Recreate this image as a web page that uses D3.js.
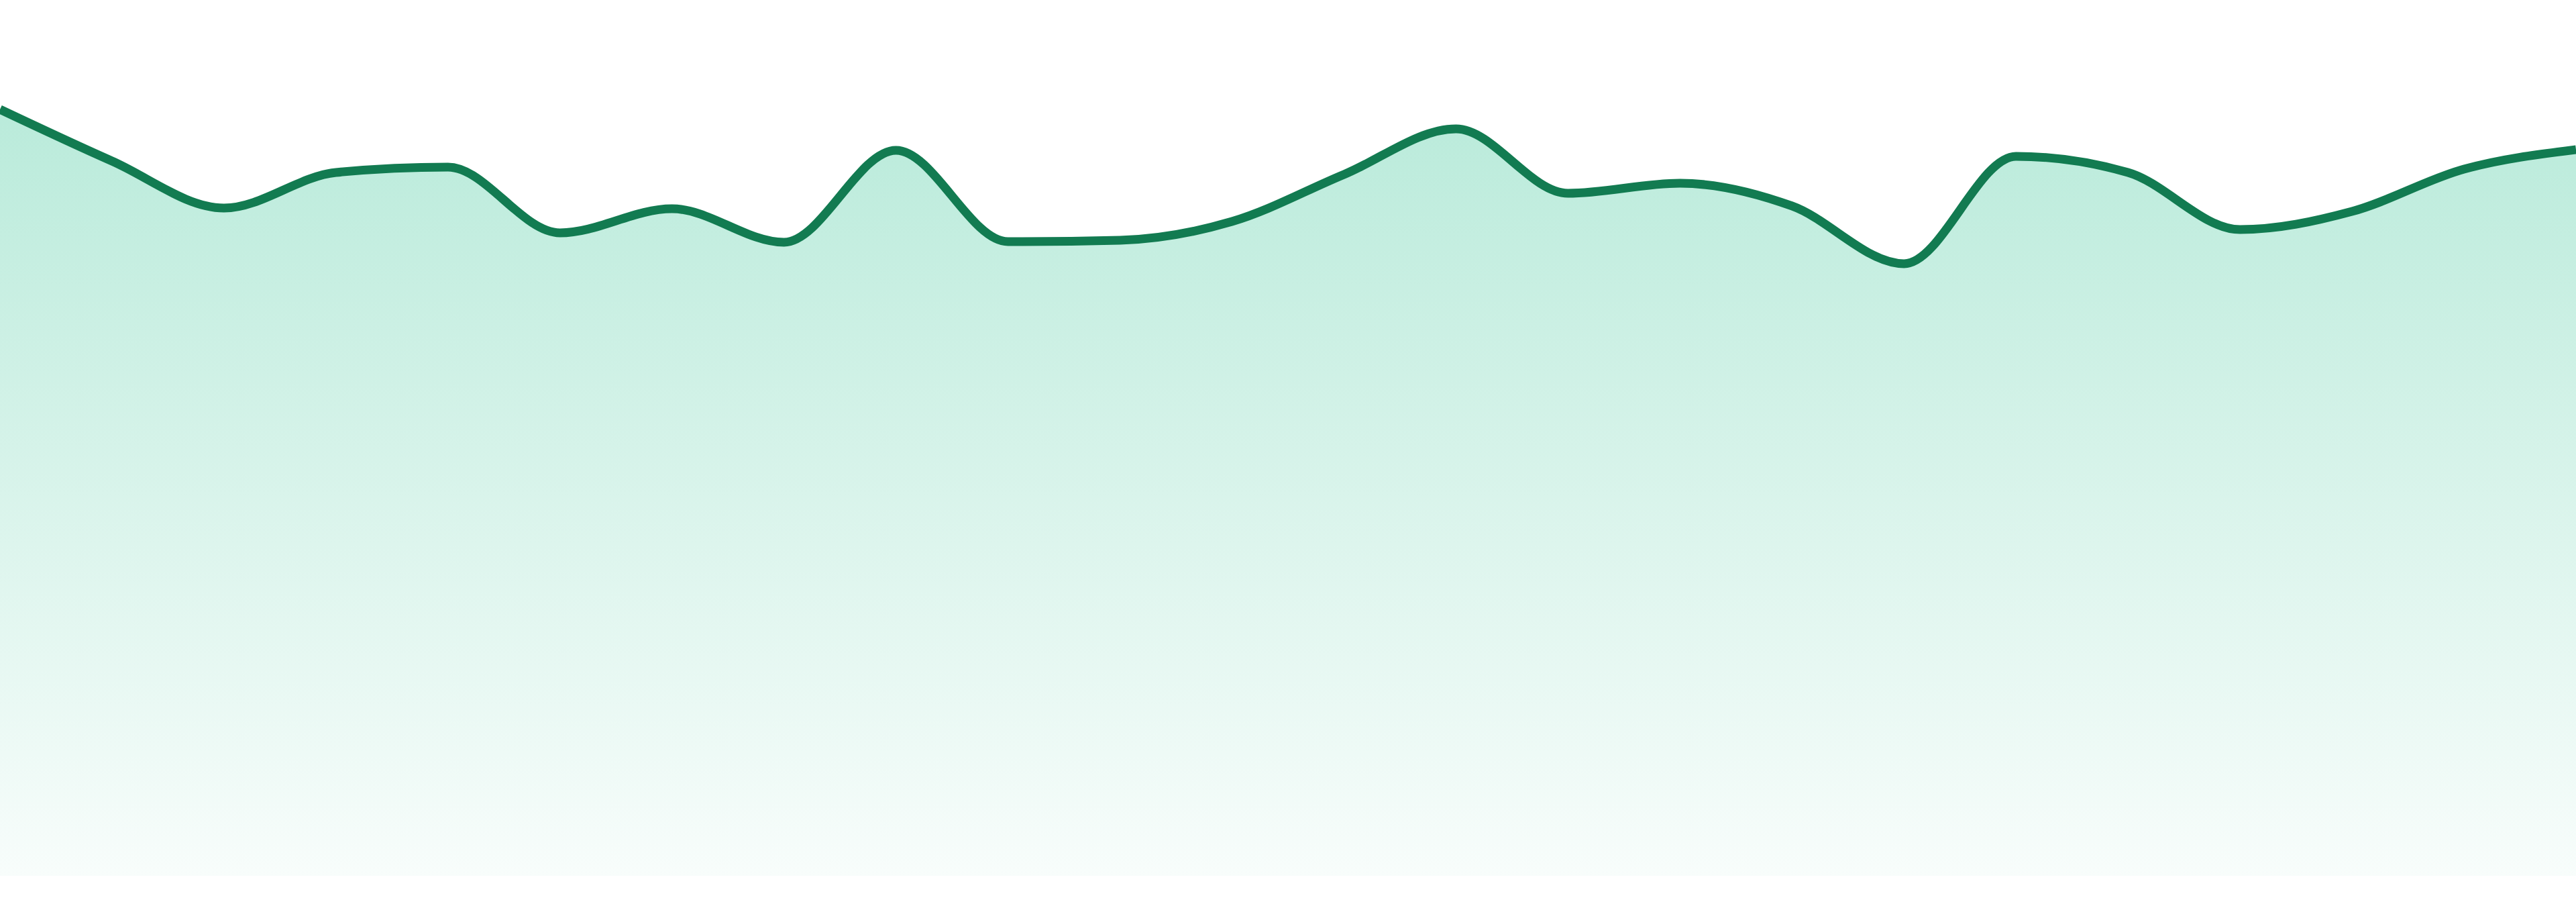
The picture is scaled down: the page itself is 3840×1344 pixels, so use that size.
<!DOCTYPE html>
<html>
<head>
<meta charset="utf-8">
<script src="https://cdn.jsdelivr.net/npm/d3@7"></script>
<style>
  html, body { margin: 0; padding: 0; background: #fff; }
  svg { display: block; }
</style>
</head>
<body>
<svg id="chart"></svg>
<script>
let dimensions = {
    width: 3840,
    height: 1344,
    bottom: 1305,
  };

// one value per step, 24 steps across the full width
const steps = d3.range(24);
const values = [875.1, 816.1, 762.5, 803.1, 809.2, 734.1, 761.7, 723.4,
                828.4, 724.1, 725.7, 747.1, 800.8, 852.9, 779.3, 790.8,
                764.8, 698.9, 821.5, 803.1, 737.9, 758.6, 806.9, 829.1];
const yDomain = [0, 1000];

const data = steps.map((s, i) => ({ step: s, value: values[i] }));

const svg = d3.select("#chart")
    .attr("width", dimensions.width)
    .attr("height", dimensions.height);

const xScale = d3.scaleLinear()
    .domain(d3.extent(steps))
    .range([0, dimensions.width]);

const yScale = d3.scaleLinear()
    .domain(yDomain)
    .range([dimensions.bottom, 0]);

const defs = svg.append("defs");
const grad = defs.append("linearGradient")
    .attr("id", "fillGrad")
    .attr("x1", 0).attr("y1", 0)
    .attr("x2", 0).attr("y2", 1);
grad.append("stop").attr("offset", "0%")
    .attr("stop-color", "#10b981").attr("stop-opacity", 0.29);
grad.append("stop").attr("offset", "100%")
    .attr("stop-color", "#10b981").attr("stop-opacity", 0.03);

const area = d3.area()
    .x(d => xScale(d.step))
    .y0(yScale(0))
    .y1(d => yScale(d.value))
    .curve(d3.curveMonotoneX);

const line = d3.line()
    .x(d => xScale(d.step))
    .y(d => yScale(d.value))
    .curve(d3.curveMonotoneX);

svg.append("path")
    .datum(data)
    .attr("d", area)
    .attr("fill", "url(#fillGrad)");

svg.append("path")
    .datum(data)
    .attr("d", line)
    .attr("fill", "none")
    .attr("stroke", "#127b51")
    .attr("stroke-width", 13)
    .attr("stroke-linejoin", "round");
</script>
</body>
</html>
